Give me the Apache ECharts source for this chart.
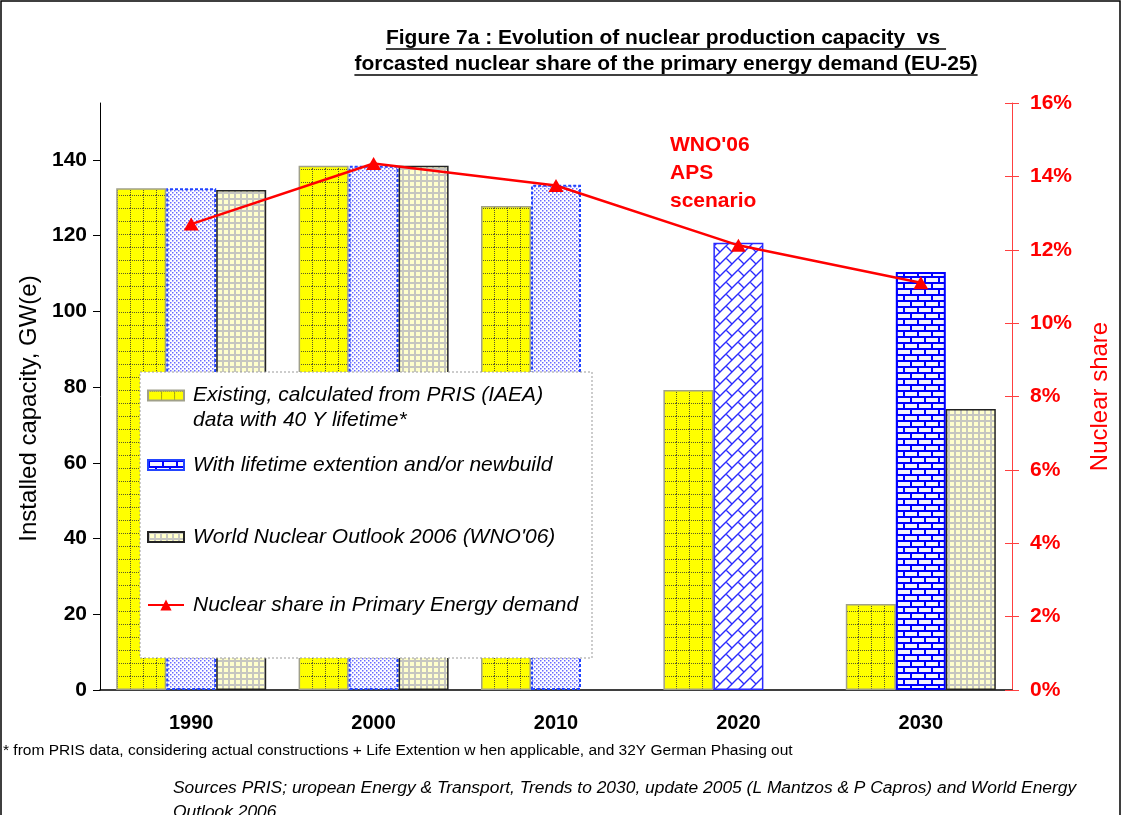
<!DOCTYPE html>
<html>
<head>
<meta charset="utf-8">
<title>Figure 7a</title>
<script src="https://cdn.jsdelivr.net/npm/echarts@6/dist/echarts.min.js"></script>
<style>
  html, body { margin: 0; padding: 0; background: #fff; }
  #chart { width: 1122px; height: 815px; }
</style>
</head>
<body>
<div id="chart"></div>
<script>
const years = ['1990', '2000', '2010', '2020', '2030']
const existing = [132.5, 138.4, 127.8, 79.2, 22.7]
const extended = [132.5, 138.4, 133.4, 118.1, 110.4]
const wno = [132, 138.4, null, null, 74.2]
const nuclearShare = [12.7, 14.35, 13.75, 12.12, 11.1]
const leftTicks = [0, 20, 40, 60, 80, 100, 120, 140]

const FONT = '"Liberation Sans", Arial, sans-serif'

// little canvas tiles used as fill patterns (excel-like hatching)
function tile (w, h, draw) {
  const c = document.createElement('canvas')
  c.width = w
  c.height = h
  draw(c.getContext('2d'), w, h)
  return { image: c, repeat: 'repeat' }
}

const yellowGrid = tile(13, 13, (ctx, w, h) => {
  ctx.fillStyle = '#ffff00'
  ctx.fillRect(0, 0, w, h)
  ctx.fillStyle = '#5a5a2a'
  for (let i = 0; i < 13; i += 2) {
    ctx.fillRect(0, i, 1, 1)
    ctx.fillRect(i, 0, 1, 1)
  }
})

const blueDots = tile(4, 4, (ctx, w, h) => {
  ctx.fillStyle = '#fff'
  ctx.fillRect(0, 0, w, h)
  ctx.fillStyle = '#6a6aff'
  ctx.fillRect(0, 0, 1.5, 1.5)
  ctx.fillRect(2, 2, 1.5, 1.5)
})

const blueDiagBrick = tile(12, 12, (ctx, s) => {
  ctx.fillStyle = '#fff'
  ctx.fillRect(0, 0, s, s)
  ctx.strokeStyle = '#2a2aff'
  ctx.lineWidth = 1.4
  ctx.beginPath()
  ctx.moveTo(-s, s); ctx.lineTo(s, -s)
  ctx.moveTo(-s, 2 * s); ctx.lineTo(2 * s, -s)
  ctx.moveTo(0, 2 * s); ctx.lineTo(2 * s, 0)
  ctx.moveTo(s / 2, s / 2); ctx.lineTo(s, s)
  ctx.moveTo(-s / 2, -s / 2); ctx.lineTo(0, 0)
  ctx.stroke()
})

const blueBrick = tile(14, 12, (ctx, w, h) => {
  ctx.fillStyle = '#f4f4ff'
  ctx.fillRect(0, 0, w, h)
  ctx.fillStyle = '#0000ff'
  ctx.fillRect(0, 0, w, 2)
  ctx.fillRect(0, 6, w, 2)
  ctx.fillRect(0, 0, 2, 6)
  ctx.fillRect(7, 6, 2, 6)
})

const beigeGrid = tile(6, 6, (ctx, w, h) => {
  ctx.fillStyle = '#ffffcc'
  ctx.fillRect(0, 0, w, h)
  ctx.fillStyle = '#c6c6c0'
  ctx.fillRect(0, 0, w, 2)
  ctx.fillRect(0, 0, 2, h)
})

const titleLines = [
  'Figure 7a : Evolution of nuclear production capacity  vs ',
  'forcasted nuclear share of the primary energy demand (EU-25)'
]
const TITLE_FONT = 'bold 21px ' + FONT
function textWidth (txt, font) {
  const ctx = document.createElement('canvas').getContext('2d')
  ctx.font = font
  return ctx.measureText(txt).width
}

const legendBase = {
  left: 147,
  orient: 'vertical',
  padding: 0,
  itemWidth: 36,
  itemHeight: 10,
  z: 20,
  selectedMode: false,
  textStyle: { fontFamily: FONT, fontStyle: 'italic', fontSize: 21, color: '#000', lineHeight: 22, padding: [0, 0, 0, 4] }
}

const chart = echarts.init(document.getElementById('chart'))
const titleGraphics = []
titleLines.forEach((t, i) => {
  const w = textWidth(t, TITLE_FONT)
  const y = 38 + i * 26
  titleGraphics.push({
    type: 'text', x: 666, y: y, z: 30,
    style: { text: t, font: TITLE_FONT, fill: '#000', align: 'center', verticalAlign: 'middle' }
  })
  titleGraphics.push({
    type: 'line', z: 30,
    shape: { x1: 666 - w / 2, y1: y + 11, x2: 666 + w / 2, y2: y + 11 },
    style: { stroke: '#000', lineWidth: 1.5 }
  })
})

const rightAxisBase = {
  type: 'value',
  position: 'right',
  min: 0,
  max: 16,
  interval: 2,
  splitLine: { show: false }
}

chart.setOption({
  animation: false,
  textStyle: { fontFamily: FONT },
  grid: { left: 100, right: 110, top: 103, bottom: 125 },
  legend: [
    Object.assign({}, legendBase, {
      top: 358,
      data: [{ name: 'Existing', icon: 'rect' }],
      // leading empty line keeps the icon level with the first text line
      formatter: () => '\nExisting, calculated from PRIS (IAEA)\ndata with 40 Y lifetime*',
      textStyle: Object.assign({}, legendBase.textStyle, { lineHeight: 25 })
    }),
    Object.assign({}, legendBase, {
      top: 454,
      data: [{ name: 'With lifetime extention and/or newbuild', icon: 'rect' }]
    }),
    Object.assign({}, legendBase, {
      top: 526,
      data: [{ name: "World Nuclear Outlook 2006 (WNO'06)", icon: 'rect' }]
    }),
    Object.assign({}, legendBase, {
      top: 594,
      itemHeight: 14,
      data: ['Nuclear share in Primary Energy demand']
    })
  ],
  xAxis: {
    type: 'category',
    data: years,
    axisLine: { lineStyle: { color: '#000', width: 1.5 } },
    axisTick: { length: 8, lineStyle: { color: '#000' } },
    axisLabel: { color: '#000', fontWeight: 'bold', fontSize: 20, margin: 23 }
  },
  yAxis: [
    {
      type: 'value',
      position: 'left',
      min: 0,
      max: 155,
      interval: 20,
      name: 'Installed capacity, GW(e)',
      nameLocation: 'middle',
      nameRotate: 90,
      nameGap: 55,
      nameTextStyle: { fontSize: 24, color: '#000', padding: [0, 24, 0, 0] },
      axisLine: { show: true, lineStyle: { color: '#000', width: 1 } },
      axisTick: { show: true, length: 7, customValues: leftTicks, lineStyle: { color: '#000' } },
      axisLabel: { customValues: leftTicks, color: '#000', fontWeight: 'bold', fontSize: 21, margin: 13 },
      splitLine: { show: false }
    },
    Object.assign({}, rightAxisBase, {
      name: 'Nuclear share',
      nameLocation: 'middle',
      nameRotate: 90,
      nameGap: 76,
      nameTextStyle: { fontSize: 24, color: '#ff0000' },
      axisLine: { show: true, lineStyle: { color: '#ff4040', width: 1 } },
      axisTick: { show: true, length: 7, lineStyle: { color: '#ff4040' } },
      axisLabel: { formatter: '{value}%', color: '#ff0000', fontWeight: 'bold', fontSize: 21, margin: 18 }
    }),
    // same scale again, only for the inner half of the crossing ticks
    Object.assign({}, rightAxisBase, {
      axisLine: { show: false },
      axisTick: { show: true, inside: true, length: 7, lineStyle: { color: '#ff4040' } },
      axisLabel: { show: false }
    })
  ],
  graphic: [
    {
      type: 'rect', z: -1,
      shape: { x: 1, y: 1, width: 1119, height: 900 },
      style: { fill: null, stroke: '#000', lineWidth: 1.5 }
    },
    {
      type: 'rect', z: 10,
      shape: { x: 140, y: 372, width: 452, height: 286 },
      style: { fill: '#fff', stroke: '#999', lineWidth: 1, lineDash: [2, 2] }
    },
    {
      type: 'text', left: 670, top: 131, z: 30,
      style: { text: "WNO'06\nAPS\nscenario", font: 'bold 21px ' + FONT, fill: '#ff0000', lineHeight: 28 }
    },
    {
      type: 'text', left: 3, top: 743, z: 30,
      style: { text: '* from PRIS data, considering actual constructions + Life Extention w hen applicable, and 32Y German Phasing out', font: '15.5px ' + FONT, fill: '#000' }
    },
    {
      type: 'text', left: 173, top: 776, z: 30,
      style: {
        text: 'Sources PRIS; uropean Energy & Transport, Trends to 2030, update 2005 (L Mantzos & P Capros) and World Energy\nOutlook 2006',
        font: 'italic 17.4px ' + FONT, fill: '#000', lineHeight: 24
      }
    }
  ].concat(titleGraphics),
  series: [
    {
      name: 'Existing',
      type: 'bar',
      barWidth: 50,
      barGap: '0%',
      data: existing,
      itemStyle: { color: yellowGrid, borderColor: '#a0a08a', borderWidth: 1.5 }
    },
    {
      name: 'With lifetime extention and/or newbuild',
      type: 'bar',
      barWidth: 50,
      barGap: '0%',
      data: extended.map((v, i) => {
        if (i < 3) {
          return { value: v, itemStyle: { color: blueDots, borderColor: '#2244ff', borderWidth: 2, borderType: [3, 2] } }
        }
        if (i === 3) {
          return { value: v, itemStyle: { color: blueDiagBrick, borderColor: '#2a2aff', borderWidth: 1.5, borderType: 'solid' } }
        }
        return { value: v, itemStyle: { color: blueBrick, borderColor: '#0000ff', borderWidth: 2, borderType: 'solid' } }
      }),
      itemStyle: { color: blueBrick, borderColor: '#2244ff', borderWidth: 2, borderType: [3, 2] }
    },
    {
      name: "World Nuclear Outlook 2006 (WNO'06)",
      type: 'bar',
      barWidth: 50,
      barGap: '0%',
      data: wno,
      itemStyle: { color: beigeGrid, borderColor: '#222', borderWidth: 1.5 }
    },
    {
      name: 'Nuclear share in Primary Energy demand',
      type: 'line',
      yAxisIndex: 1,
      data: nuclearShare,
      z: 5,
      symbol: 'triangle',
      symbolSize: [15, 13],
      lineStyle: { color: '#ff0000', width: 2.5 },
      itemStyle: { color: '#ff0000' }
    }
  ]
})
</script>
</body>
</html>
